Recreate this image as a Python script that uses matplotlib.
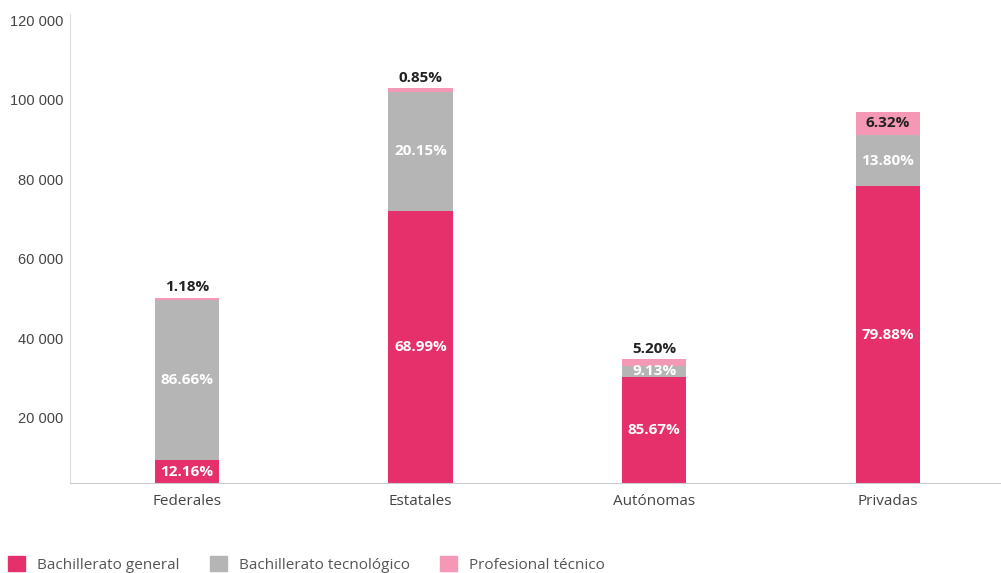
import matplotlib
matplotlib.use("Agg")
import matplotlib.pyplot as plt
import matplotlib.transforms as mtransforms
from matplotlib.patches import Patch
import numpy as np

categories = ["Federales", "Estatales", "Autónomas", "Privadas"]
series_names = ["Bachillerato general", "Bachillerato tecnológico", "Profesional técnico"]
general = [5670, 68500, 26660, 74620]
tecnologico = [40400, 29950, 2840, 12890]
profesional = [550, 850, 1620, 5900]
general_lbl = ["12.16%", "68.99%", "85.67%", "79.88%"]
tecnologico_lbl = ["86.66%", "20.15%", "9.13%", "13.80%"]
profesional_lbl = ["1.18%", "0.85%", "5.20%", "6.32%"]
yticks = [20000, 40000, 60000, 80000, 100000, 120000]
ytick_lbl = ["20 000", "40 000", "60 000", "80 000", "100 000", "120 000"]

c_gen = "#E5306B"
c_tec = "#B5B5B5"
c_pro = "#F598B6"

fig = plt.figure(figsize=(10.01, 5.73), dpi=100)
W, H = 1001, 573
ax = fig.add_axes([70 / W, (H - 483) / H, (1000 - 70) / W, (483 - 2) / H])

x = np.arange(len(categories))
bw = 0.275
g = np.array(general)
t = np.array(tecnologico)
p = np.array(profesional)
ax.bar(x, g, bw, color=c_gen, label=series_names[0])
ax.bar(x, t, bw, bottom=g, color=c_tec, label=series_names[1])
ax.bar(x, p, bw, bottom=g + t, color=c_pro, label=series_names[2])

ax.set_xlim(-0.5, 3.48)
ax.set_ylim(0, 121000)

lab_font = "Open Sans"
for i in range(len(categories)):
    ax.text(x[i], g[i] / 2, general_lbl[i], ha="center", va="center",
            color="white", fontsize=11, fontweight="bold", family=lab_font)
    ax.text(x[i], g[i] + t[i] / 2, tecnologico_lbl[i], ha="center", va="center",
            color="white", fontsize=11, fontweight="bold", family=lab_font)
    top = g[i] + t[i] + p[i]
    if p[i] > 3000:
        ax.text(x[i], g[i] + t[i] + p[i] / 2, profesional_lbl[i], ha="center",
                va="center", color="#222222", fontsize=11, fontweight="bold",
                family=lab_font)
    else:
        ax.text(x[i], top + 900, profesional_lbl[i], ha="center", va="bottom",
                color="#222222", fontsize=11, fontweight="bold", family=lab_font)

ax.set_yticks(yticks)
ax.set_yticklabels(ytick_lbl, family="Liberation Sans", fontsize=10.5, color="#444444")
ax.tick_params(axis="y", length=0, pad=5)
off = mtransforms.ScaledTranslation(0, -14.5 / 100, fig.dpi_scale_trans)
for lbl in ax.get_yticklabels():
    lbl.set_transform(lbl.get_transform() + off)

ax.set_xticks(x)
ax.set_xticklabels(categories, family=lab_font, fontsize=11, color="#444444")
ax.tick_params(axis="x", length=0, pad=8)

for s in ["top", "right"]:
    ax.spines[s].set_visible(False)
ax.spines["left"].set_color("#dddddd")
ax.spines["left"].set_bounds(0, 118000)
ax.spines["bottom"].set_color("#cccccc")

handles = [Patch(color=c_gen), Patch(color=c_tec), Patch(color=c_pro)]
leg = fig.legend(handles, series_names, loc="lower left", bbox_to_anchor=(-0.006, -0.024),
                 ncol=3, frameon=False, handlelength=1.1, handleheight=1.1,
                 handletextpad=0.8, columnspacing=2.0,
                 prop={"family": lab_font, "size": 11})
for txt in leg.get_texts():
    txt.set_color("#555555")

fig.savefig("out.png", dpi=100, facecolor="white")
